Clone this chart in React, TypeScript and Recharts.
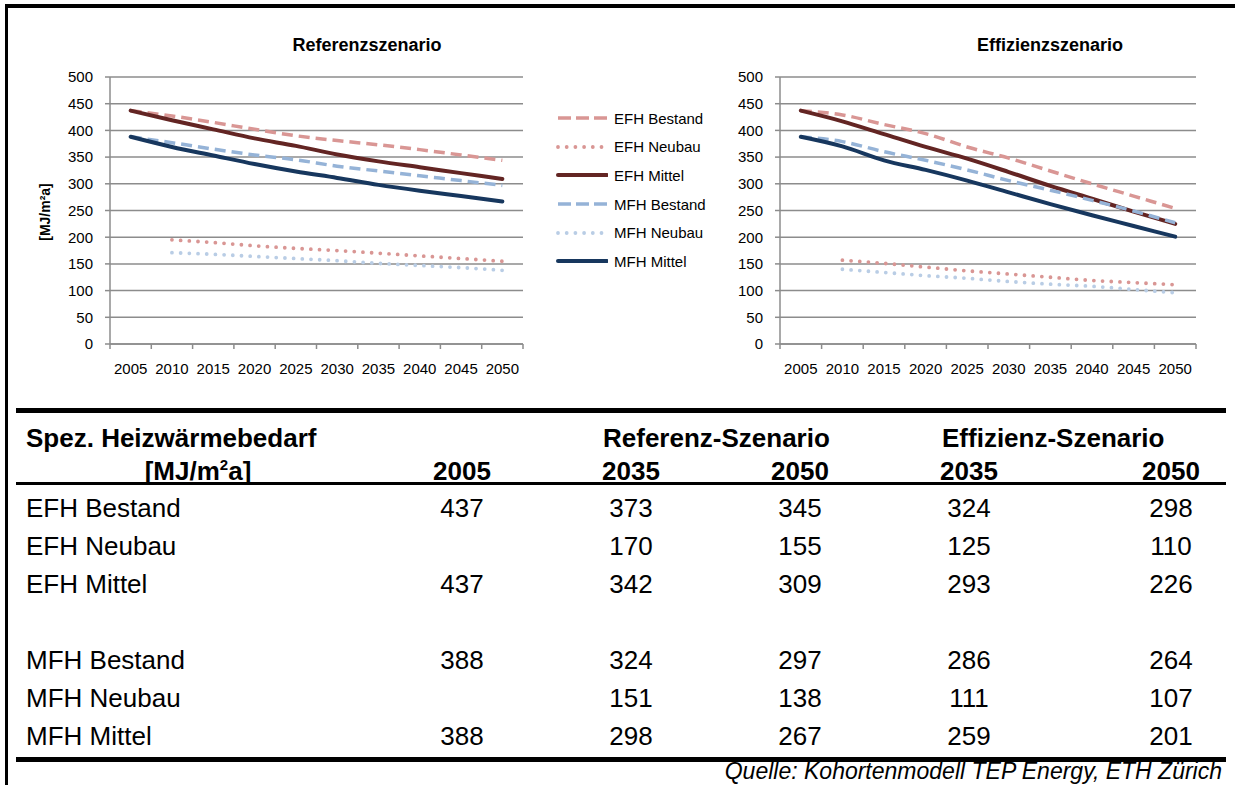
import React from "react";
import { LineChart, Line, XAxis, YAxis, CartesianGrid, Legend } from "recharts";

const FONT = "'Liberation Sans', Arial, sans-serif";
const AXIS_GRAY = "#8c8c8c";

const years = ["2005", "2010", "2015", "2020", "2025", "2030", "2035", "2040", "2045", "2050"];
const yTicks = [0, 50, 100, 150, 200, 250, 300, 350, 400, 450, 500];

// Referenzszenario
const refEfhBestand = [437, 427, 415, 402, 390, 381, 373, 364, 354, 344];
const refEfhNeubau = [null, 195, 190, 184, 179, 175, 170, 165, 160, 155];
const refEfhMittel = [437, 419, 402, 385, 371, 355, 342, 331, 320, 309];
const refMfhBestand = [388, 377, 365, 354, 345, 333, 324, 315, 306, 297];
const refMfhNeubau = [null, 171, 168, 164, 160, 156, 151, 147, 143, 138];
const refMfhMittel = [388, 369, 353, 337, 323, 311, 298, 287, 277, 267];

// Effizienzszenario
const effEfhBestand = [437, 429, 411, 394, 369, 348, 324, 300, 277, 254];
const effEfhNeubau = [null, 157, 151, 144, 137, 131, 125, 119, 115, 111];
const effEfhMittel = [437, 417, 393, 369, 347, 322, 296, 272, 248, 225];
const effMfhBestand = [388, 379, 360, 344, 326, 306, 288, 269, 249, 227];
const effMfhNeubau = [null, 140, 134, 128, 123, 117, 112, 108, 102, 96];
const effMfhMittel = [388, 370, 344, 326, 306, 284, 262, 241, 221, 201];

const seriesNames = ["EFH Bestand", "EFH Neubau", "EFH Mittel", "MFH Bestand", "MFH Neubau", "MFH Mittel"];
const seriesKeys = ["efhBestand", "efhNeubau", "efhMittel", "mfhBestand", "mfhNeubau", "mfhMittel"];

// table
const tableLabels = ["EFH Bestand", "EFH Neubau", "EFH Mittel", "", "MFH Bestand", "MFH Neubau", "MFH Mittel"];
const col2005 = [437, null, 437, null, 388, null, 388];
const refCol2035 = [373, 170, 342, null, 324, 151, 298];
const refCol2050 = [345, 155, 309, null, 297, 138, 267];
const effCol2035 = [324, 125, 293, null, 286, 111, 259];
const effCol2050 = [298, 110, 226, null, 264, 107, 201];
const colYears = ["2005", "2035", "2050", "2035", "2050"];

const seriesStyle = [
  { color: "#D99694", dash: "11 6", width: 3.5, cap: "butt" },
  { color: "#D99694", dash: "0 8.7", width: 3.8, cap: "round" },
  { color: "#632523", dash: undefined, width: 4, cap: "round" },
  { color: "#95B3D7", dash: "11 6", width: 3.5, cap: "butt" },
  { color: "#B9CDE5", dash: "0 8.7", width: 3.8, cap: "round" },
  { color: "#17375E", dash: undefined, width: 4, cap: "round" },
];

function buildRows(cols: (number | null)[][]) {
  return years.map((year, i) => {
    const row: any = { year };
    seriesKeys.forEach((k, j) => {
      row[k] = cols[j][i];
    });
    return row;
  });
}

const refData = buildRows([refEfhBestand, refEfhNeubau, refEfhMittel, refMfhBestand, refMfhNeubau, refMfhMittel]);
const effData = buildRows([effEfhBestand, effEfhNeubau, effEfhMittel, effMfhBestand, effMfhNeubau, effMfhMittel]);

function makeYearTick(band: number) {
  return (props: any) => {
    const { x, y, payload, index } = props;
    const last = index === years.length - 1;
    return (
      <g>
        <line x1={x - band / 2} x2={x - band / 2} y1={y} y2={y + 5} stroke={AXIS_GRAY} strokeWidth={1.5} />
        {last && <line x1={x + band / 2} x2={x + band / 2} y1={y} y2={y + 5} stroke={AXIS_GRAY} strokeWidth={1.5} />}
        <text x={x} y={y + 30} textAnchor="middle" fontSize={15} fontFamily={FONT} fill="#000">
          {payload.value}
        </text>
      </g>
    );
  };
}

function LegendBox() {
  return (
    <div style={{ fontFamily: FONT, fontSize: 15, color: "#000" }}>
      {seriesNames.map((name, i) => {
        const s = seriesStyle[i];
        return (
          <div key={name} style={{ display: "flex", alignItems: "center", height: 28.6 }}>
            <svg width={55} height={28}>
              <line
                x1={5}
                x2={54}
                y1={14}
                y2={14}
                stroke={s.color}
                strokeWidth={s.width}
                strokeDasharray={s.dash === "11 6" ? "13 5" : s.dash}
                strokeLinecap={s.cap as any}
              />
            </svg>
            <span style={{ marginLeft: 6, whiteSpace: "nowrap" }}>{name}</span>
          </div>
        );
      })}
    </div>
  );
}

interface ScenarioChartProps {
  data: any[];
  width: number;
  margin: { top: number; right: number; bottom: number; left: number };
  plotWidth: number;
  withLegend?: boolean;
}

function ScenarioChart({ data, width, margin, plotWidth, withLegend }: ScenarioChartProps) {
  const band = plotWidth / years.length;
  return (
    <LineChart width={width} height={390} data={data} margin={margin} style={{ fontFamily: FONT }}>
      <CartesianGrid vertical={false} stroke={AXIS_GRAY} strokeWidth={1.5} />
      <XAxis
        dataKey="year"
        interval={0}
        padding={{ left: band / 2, right: band / 2 }}
        height={40}
        tickSize={0}
        tickMargin={0}
        tickLine={false}
        axisLine={{ stroke: AXIS_GRAY, strokeWidth: 1.5 }}
        tick={makeYearTick(band)}
      />
      <YAxis
        domain={[0, 500]}
        ticks={yTicks}
        interval={0}
        width={50}
        tickSize={5}
        tickMargin={12}
        axisLine={{ stroke: AXIS_GRAY, strokeWidth: 1.5 }}
        tickLine={{ stroke: AXIS_GRAY, strokeWidth: 1.5 }}
        tick={{ fill: "#000", fontSize: 15, fontFamily: FONT }}
      />
      {withLegend && (
        <Legend
          layout="vertical"
          align="center"
          verticalAlign="middle"
          content={() => <LegendBox />}
          wrapperStyle={{ left: 553, top: 104, width: 180 }}
        />
      )}
      {seriesKeys.map((key, i) => {
        const s = seriesStyle[i];
        return (
          <Line
            key={key}
            dataKey={key}
            name={seriesNames[i]}
            type="monotone"
            stroke={s.color}
            strokeWidth={s.width}
            strokeDasharray={s.dash}
            strokeLinecap={s.cap as any}
            dot={false}
            activeDot={false}
            isAnimationActive={false}
          />
        );
      })}
    </LineChart>
  );
}

const abs = (left: number, top: number, extra: React.CSSProperties = {}): React.CSSProperties => ({
  position: "absolute",
  left,
  top,
  ...extra,
});

const colCenters = [462, 631, 800, 969, 1171];
const rowCenters = [508, 546, 584, 622, 660, 698, 736];

function Cell({ cx, cy, children, bold }: { cx: number; cy: number; children: React.ReactNode; bold?: boolean }) {
  return (
    <div
      style={abs(cx - 60, cy - 15, {
        width: 120,
        height: 30,
        lineHeight: "30px",
        textAlign: "center",
        fontWeight: bold ? "bold" : "normal",
      })}
    >
      {children}
    </div>
  );
}

function DataTable() {
  const cols = [col2005, refCol2035, refCol2050, effCol2035, effCol2050];
  return (
    <div style={{ fontFamily: FONT, fontSize: 26, color: "#000" }}>
      <div style={abs(16, 408, { width: 1210, height: 5, background: "#000" })} />
      <div style={abs(26, 423, { height: 30, lineHeight: "30px", fontWeight: "bold", whiteSpace: "nowrap" })}>
        Spez. Heizwärmebedarf
      </div>
      <div style={abs(603, 423, { height: 30, lineHeight: "30px", fontWeight: "bold", whiteSpace: "nowrap" })}>
        Referenz-Szenario
      </div>
      <div style={abs(942, 423, { height: 30, lineHeight: "30px", fontWeight: "bold", whiteSpace: "nowrap" })}>
        Effizienz-Szenario
      </div>
      <div style={abs(98, 456, { width: 200, height: 30, lineHeight: "30px", fontWeight: "bold", textAlign: "center" })}>
        [MJ/m<sup style={{ fontSize: 15, lineHeight: 0 }}>2</sup>a]
      </div>
      {colYears.map((y, i) => (
        <Cell key={"h" + i} cx={colCenters[i]} cy={471} bold>
          {y}
        </Cell>
      ))}
      <div style={abs(16, 482, { width: 1210, height: 2.5, background: "#000" })} />
      {tableLabels.map((label, r) => (
        <React.Fragment key={"r" + r}>
          <div style={abs(26, rowCenters[r] - 15, { height: 30, lineHeight: "30px", whiteSpace: "nowrap" })}>{label}</div>
          {cols.map((col, c) => (
            <Cell key={c} cx={colCenters[c]} cy={rowCenters[r]}>
              {col[r] ?? ""}
            </Cell>
          ))}
        </React.Fragment>
      ))}
      <div style={abs(16, 757, { width: 1210, height: 5, background: "#000" })} />
      <div
        style={abs(600, 759, {
          width: 622,
          height: 24,
          lineHeight: "24px",
          fontSize: 23,
          fontStyle: "italic",
          textAlign: "right",
          whiteSpace: "nowrap",
        })}
      >
        Quelle: Kohortenmodell TEP Energy, ETH Zürich
      </div>
    </div>
  );
}

export default function App() {
  return (
    <div style={abs(0, 0, { width: 1235, height: 785, background: "#fff", overflow: "hidden", fontFamily: FONT })}>
      <div style={abs(5, 4, { width: 1230, height: 3.5, background: "#000" })} />
      <div style={abs(5, 4, { width: 2.5, height: 781, background: "#000" })} />

      <div style={abs(0, 0)}>
        <ScenarioChart
          data={refData}
          width={735}
          margin={{ top: 77, right: 212, bottom: 6, left: 60 }}
          plotWidth={413}
          withLegend
        />
      </div>
      <div style={abs(700, 0)}>
        <ScenarioChart data={effData} width={520} margin={{ top: 77, right: 24, bottom: 6, left: 30 }} plotWidth={416} />
      </div>

      <div style={abs(267, 33, { width: 200, textAlign: "center", fontSize: 18, fontWeight: "bold", lineHeight: "24px" })}>
        Referenzszenario
      </div>
      <div style={abs(950, 33, { width: 200, textAlign: "center", fontSize: 18, fontWeight: "bold", lineHeight: "24px" })}>
        Effizienzszenario
      </div>
      <div
        style={abs(45 - 60, 212 - 10, {
          width: 120,
          height: 20,
          lineHeight: "20px",
          textAlign: "center",
          fontSize: 14,
          fontWeight: "bold",
          transform: "rotate(-90deg)",
          whiteSpace: "nowrap",
        })}
      >
        [MJ/m²a]
      </div>

      <DataTable />
    </div>
  );
}
